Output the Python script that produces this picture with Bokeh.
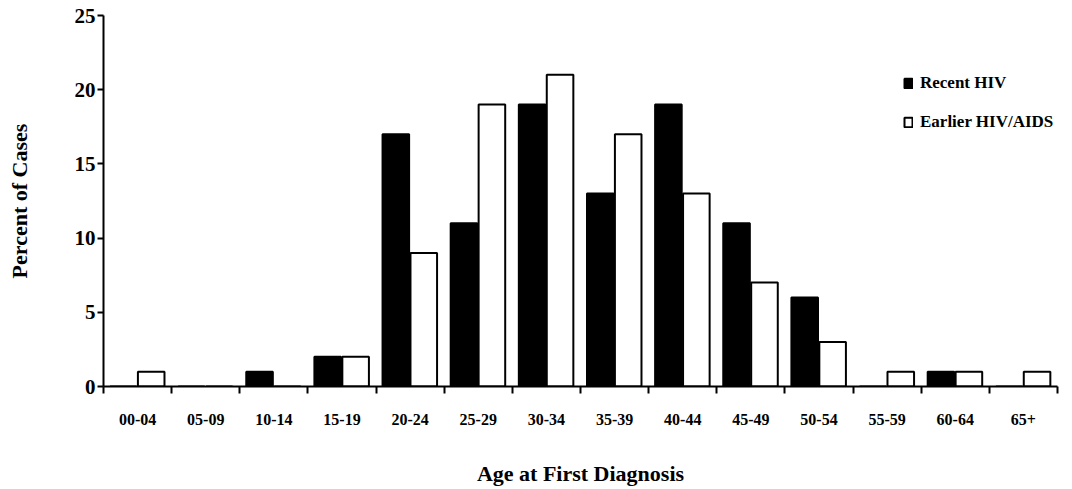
from bokeh.plotting import figure
from bokeh.models import Range1d, FixedTicker, Legend, LegendItem, ColumnDataSource
from bokeh.embed import file_html
from bokeh.resources import INLINE

categories = ["00-04", "05-09", "10-14", "15-19", "20-24", "25-29", "30-34",
              "35-39", "40-44", "45-49", "50-54", "55-59", "60-64", "65+"]
recent_hiv = [0, 0, 1, 2, 17, 11, 19, 13, 19, 11, 6, 0, 1, 0]
earlier_hiv_aids = [1, 0, 0, 2, 9, 19, 21, 17, 13, 7, 3, 1, 1, 1]
y_ticks = [0, 5, 10, 15, 20, 25]

FONT = "Liberation Serif"
n = len(categories)
centers = [i + 0.5 for i in range(n)]

src = ColumnDataSource(dict(
    x_recent=[c - 0.21 for c in centers],
    x_earlier=[c + 0.20 for c in centers],
    recent=recent_hiv,
    earlier=earlier_hiv_aids,
))

p = figure(width=1072, height=489,
           x_range=Range1d(0, n), y_range=Range1d(0, 25),
           output_backend="svg", toolbar_location=None,
           min_border_left=103, min_border_right=15,
           min_border_top=15, min_border_bottom=103)
p.outline_line_color = None
p.xgrid.visible = False
p.ygrid.visible = False

r1 = p.vbar(x="x_recent", top="recent", bottom=0, width=0.39, source=src,
            fill_color="black", line_color="black", line_width=2)
r2 = p.vbar(x="x_earlier", top="earlier", bottom=0, width=0.39, source=src,
            fill_color="white", line_color="black", line_width=2)

# x axis
xa = p.xaxis[0]
xa.ticker = FixedTicker(ticks=centers, minor_ticks=list(range(n + 1)))
xa.major_label_overrides = {c: lab for c, lab in zip(centers, categories)}
xa.major_tick_out = 0
xa.major_tick_in = 0
xa.minor_tick_out = 7
xa.minor_tick_in = 0
xa.minor_tick_line_width = 2
xa.minor_tick_line_color = "black"
xa.axis_line_width = 2
xa.axis_line_color = "black"
xa.major_label_text_font = FONT
xa.major_label_text_font_style = "bold"
xa.major_label_text_font_size = "16px"
xa.major_label_text_color = "black"
xa.major_label_standoff = 20
xa.axis_label = "Age at First Diagnosis"
xa.axis_label_text_font = FONT
xa.axis_label_text_font_style = "bold"
xa.axis_label_text_font_size = "22px"
xa.axis_label_text_color = "black"
xa.axis_label_standoff = 33

# y axis
ya = p.yaxis[0]
ya.ticker = FixedTicker(ticks=y_ticks, minor_ticks=[])
ya.major_tick_out = 6
ya.major_tick_in = 0
ya.major_tick_line_width = 2
ya.major_tick_line_color = "black"
ya.minor_tick_out = 0
ya.minor_tick_in = 0
ya.axis_line_width = 2
ya.axis_line_color = "black"
ya.major_label_text_font = FONT
ya.major_label_text_font_style = "bold"
ya.major_label_text_font_size = "21px"
ya.major_label_text_color = "black"
ya.major_label_standoff = 2
ya.axis_label = "Percent of Cases"
ya.axis_label_text_font = FONT
ya.axis_label_text_font_style = "bold"
ya.axis_label_text_font_size = "22px"
ya.axis_label_text_color = "black"
ya.axis_label_standoff = 40

legend = Legend(items=[LegendItem(label="Recent HIV", renderers=[r1]),
                       LegendItem(label="Earlier HIV/AIDS", renderers=[r2])],
                location=(800, 254), padding=0, margin=0, spacing=19,
                glyph_width=10, glyph_height=12, label_standoff=7,
                label_text_font=FONT, label_text_font_style="bold",
                label_text_font_size="17px", label_text_color="black",
                border_line_color=None, background_fill_alpha=0)
p.add_layout(legend)

open("out.html", "w").write(file_html(p, INLINE))
